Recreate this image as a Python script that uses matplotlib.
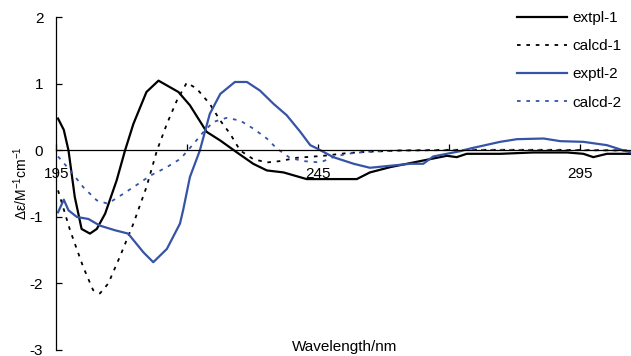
import matplotlib
matplotlib.use("Agg")
import matplotlib.pyplot as plt
from matplotlib.ticker import FixedLocator

plt.rcParams["font.family"] = ["Liberation Sans", "DejaVu Sans"]
plt.rcParams["mathtext.fontset"] = "custom"
plt.rcParams["mathtext.rm"] = "Liberation Sans"
plt.rcParams["mathtext.default"] = "regular"
plt.rcParams["axes.unicode_minus"] = False

# CD spectra (wavelength in nm, delta-epsilon)
wl_extpl1 = [195.3, 196.4, 197.3, 198.5, 199.8, 201.4, 202.7, 204.3, 206.5, 208.1,
             209.7, 212.2, 214.5, 218.3, 220.5, 223.7, 226.3, 229.5, 232.6, 235.2,
             238.4, 242.8, 247.9, 252.4, 254.9, 258.8, 262.6, 266.4, 269.6, 271.5,
             273.4, 279.8, 286.1, 292.6, 295.7, 297.6, 300.2, 304.8]
de_extpl1 = [0.48, 0.31, 0.0, -0.70, -1.18, -1.25, -1.18, -0.95, -0.45, 0.0,
             0.40, 0.88, 1.05, 0.88, 0.68, 0.28, 0.15, -0.03, -0.20, -0.30,
             -0.33, -0.43, -0.43, -0.43, -0.33, -0.25, -0.19, -0.13, -0.08, -0.10,
             -0.05, -0.05, -0.03, -0.03, -0.05, -0.10, -0.05, -0.05]

wl_calcd1 = [195.3, 197.6, 200.1, 202.0, 203.3, 204.9, 207.1, 209.7, 212.2, 214.2,
             216.1, 218.0, 219.9, 221.8, 224.3, 226.3, 228.2, 230.1, 232.6, 235.2,
             237.7, 240.9, 246.0, 250.5, 254.3, 260.7, 270.2, 279.8, 291.3, 304.8]
de_calcd1 = [-0.60, -1.20, -1.75, -2.10, -2.15, -2.00, -1.60, -1.10, -0.55, 0.0,
             0.40, 0.75, 1.02, 0.93, 0.70, 0.45, 0.25, 0.0, -0.13, -0.18,
             -0.16, -0.11, -0.08, -0.04, -0.02, 0.0, 0.01, 0.01, 0.01, 0.0]

wl_exptl2 = [195.3, 196.4, 197.3, 198.9, 201.1, 203.3, 206.2, 208.7, 211.6, 213.5,
             216.1, 218.6, 219.2, 220.5, 222.4, 224.3, 226.3, 229.1, 231.4, 233.9,
             236.5, 239.0, 241.6, 243.5, 244.8, 247.9, 251.8, 254.9, 258.8, 262.6,
             265.1, 267.0, 269.6, 272.2, 274.1, 279.8, 283.0, 288.1, 291.3, 295.7,
             300.2, 303.4, 304.8]
de_exptl2 = [-0.93, -0.74, -0.90, -1.00, -1.03, -1.13, -1.20, -1.25, -1.53, -1.68,
             -1.48, -1.10, -0.90, -0.40, 0.0, 0.55, 0.85, 1.03, 1.03, 0.90,
             0.70, 0.53, 0.28, 0.08, 0.03, -0.10, -0.20, -0.26, -0.23, -0.20,
             -0.20, -0.09, -0.05, -0.01, 0.03, 0.13, 0.17, 0.18, 0.14, 0.13,
             0.08, 0.0, -0.03]

wl_calcd2 = [195.3, 197.6, 200.1, 202.7, 204.8, 207.8, 210.3, 212.9, 216.1, 218.6,
             219.2, 221.2, 223.1, 225.0, 227.5, 230.1, 232.6, 235.2, 237.1, 239.6,
             242.2, 245.4, 247.9, 250.5, 254.3, 260.7, 279.8, 304.8]
de_calcd2 = [-0.09, -0.30, -0.55, -0.75, -0.80, -0.65, -0.52, -0.38, -0.25, -0.13,
             -0.08, 0.10, 0.28, 0.43, 0.49, 0.45, 0.33, 0.18, 0.03, -0.11,
             -0.16, -0.18, -0.10, -0.05, -0.02, 0.0, 0.01, 0.0]

labels = ["extpl-1", "calcd-1", "exptl-2", "calcd-2"]
blue = "#3654a6"
dots = (0, (2, 3.2))

fig = plt.figure(figsize=(6.31, 3.56), dpi=100)
ax = fig.add_axes([0.0895, 0.0169, 0.9105, 0.934])

ax.plot(wl_extpl1, de_extpl1, color="black", lw=1.6, label=labels[0])
ax.plot(wl_calcd1, de_calcd1, color="black", lw=1.3, ls=dots, label=labels[1])
ax.plot(wl_exptl2, de_exptl2, color=blue, lw=1.6, label=labels[2])
ax.plot(wl_calcd2, de_calcd2, color=blue, lw=1.3, ls=dots, label=labels[3])

ax.set_xlim(195, 304.8)
ax.set_ylim(-3, 2)

ax.spines["top"].set_visible(False)
ax.spines["right"].set_visible(False)
ax.spines["bottom"].set_position(("data", 0))
ax.spines["bottom"].set_linewidth(0.9)
ax.spines["left"].set_linewidth(0.9)

ax.set_yticks([-3, -2, -1, 0, 1, 2])
ax.set_xticks([195, 245, 295])
ax.xaxis.set_minor_locator(FixedLocator([220, 270]))
ax.tick_params(axis="y", direction="in", length=4, width=0.9, pad=9.5, labelsize=11)
ax.tick_params(axis="x", which="both", direction="in", length=4, width=0.9,
               pad=12, labelsize=11)

fig.text(21 / 631, 1 - 183 / 356, "Δε/M$^{-1}$cm$^{-1}$", rotation=90,
         ha="center", va="center", fontsize=10)
fig.text(345 / 631, 1 - 347 / 356, "Wavelength/nm", ha="center", va="center",
         fontsize=11)

ax.legend(loc="upper left", bbox_to_anchor=(517 / 631, 1 - 11 / 356),
          bbox_transform=fig.transFigure, frameon=False, fontsize=11,
          handlelength=3.3, handletextpad=0.3, labelspacing=0.93,
          borderpad=0, borderaxespad=0)

fig.savefig("out.png", dpi=100)
